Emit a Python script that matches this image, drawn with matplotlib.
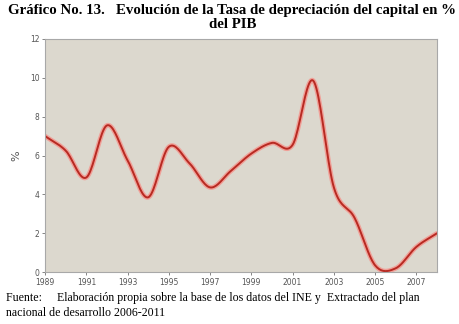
import numpy as np
import matplotlib
matplotlib.use('Agg')
import matplotlib.pyplot as plt

# Data
years = [1989, 1990, 1991, 1992, 1993, 1994, 1995, 1996, 1997, 1998,
         1999, 2000, 2001, 2002, 2003, 2004, 2005, 2006, 2007, 2008]
rate = [7.0, 6.25, 4.87, 7.55, 5.75, 3.85, 6.45, 5.6, 4.36, 5.2,
        6.1, 6.65, 6.55, 9.85, 4.36, 2.8, 0.35, 0.2, 1.3, 2.0]
tick_years = [1989, 1991, 1993, 1995, 1997, 1999, 2001, 2003, 2005, 2007]

title = 'Gráfico No. 13.   Evolución de la Tasa de depreciación del capital en %\ndel PIB'
source = ('Fuente:     Elaboración propia sobre la base de los datos del INE y  Extractado del plan\n'
          'nacional de desarrollo 2006-2011')


def smooth(x, y, n=20):
    # Catmull-Rom curve through the points (like the smoothed line of the original)
    x = np.asarray(x, float)
    y = np.asarray(y, float)
    m = np.gradient(y, x)
    xs, ys = [], []
    for i in range(len(x) - 1):
        h = x[i + 1] - x[i]
        t = np.linspace(0, 1, n, endpoint=False)
        h00 = 2 * t**3 - 3 * t**2 + 1
        h10 = t**3 - 2 * t**2 + t
        h01 = -2 * t**3 + 3 * t**2
        h11 = t**3 - t**2
        xs.append(x[i] + t * h)
        ys.append(h00 * y[i] + h10 * h * m[i] + h01 * y[i + 1] + h11 * h * m[i + 1])
    xs.append([x[-1]])
    ys.append([y[-1]])
    return np.concatenate(xs), np.concatenate(ys)


fig = plt.figure(figsize=(4.6, 3.24), dpi=100)
ax = fig.add_axes([0.098, 0.16, 0.852, 0.72])
ax.set_facecolor('#dcd8ce')

sx, sy = smooth(years, rate)
ax.plot(sx, sy, color='#f0a098', linewidth=3.4, solid_capstyle='round')
ax.plot(sx, sy, color='#b82a22', linewidth=1.4, solid_capstyle='round')

ax.set_xlim(1989, 2008)
ax.set_ylim(0, 12)
ax.set_xticks(tick_years)
ax.set_yticks(range(0, 13, 2))
ax.tick_params(labelsize=5.5, colors='#555555', length=2, width=0.5, pad=2)
ax.set_ylabel('%', fontsize=8, color='#555555', labelpad=6)
for s in ax.spines.values():
    s.set_color('#a8a8a8')
    s.set_linewidth(0.8)

fig.text(0.505, 0.988, title, ha='center', va='top', fontsize=10.7,
         fontweight='bold', family='Liberation Serif', linespacing=1.15)
fig.text(0.013, 0.1, source, ha='left', va='top', fontsize=8.6,
         family='Liberation Serif', linespacing=1.35)

plt.savefig('out.png', dpi=100)
